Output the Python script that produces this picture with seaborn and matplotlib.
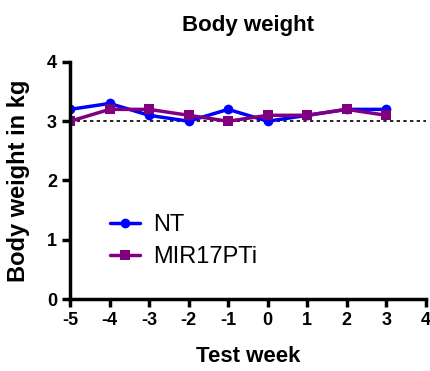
import matplotlib
matplotlib.use("Agg")
import matplotlib.pyplot as plt
import seaborn as sns
import pandas as pd

weeks = [-5, -4, -3, -2, -1, 0, 1, 2, 3]
nt_weight = [3.2, 3.3, 3.1, 3.0, 3.2, 3.0, 3.1, 3.2, 3.2]
mir_weight = [3.0, 3.2, 3.2, 3.1, 3.0, 3.1, 3.1, 3.2, 3.1]
groups = ["NT", "MIR17PTi"]
colors = {"NT": "#0000ff", "MIR17PTi": "#800080"}
markers = {"NT": "o", "MIR17PTi": "s"}
x_ticks = [-5, -4, -3, -2, -1, 0, 1, 2, 3, 4]
y_ticks = [0, 1, 2, 3, 4]

df = pd.DataFrame({
    "week": weeks * 2,
    "weight": nt_weight + mir_weight,
    "group": [groups[0]] * len(weeks) + [groups[1]] * len(weeks),
})

sns.set_style("ticks")
plt.rcParams["font.family"] = ["Liberation Sans", "DejaVu Sans"]
plt.rcParams["axes.unicode_minus"] = False
plt.rcParams["text.color"] = "black"
plt.rcParams["axes.labelcolor"] = "black"

fig = plt.figure(figsize=(4.3, 3.71), dpi=100)
ax = fig.add_axes([0.163, 0.194, 0.827, 0.639])

sns.lineplot(data=df, x="week", y="weight", hue="group", style="group",
             palette=colors, markers=markers, dashes=False, ax=ax,
             linewidth=2.5, markersize=7, markeredgewidth=0, legend=True)

ax.axhline(3, color="black", linestyle=(0, (2, 2)), linewidth=1.2, zorder=0)

ax.set_xlim(-5, 4)
ax.set_ylim(0, 4)
ax.set_xticks(x_ticks)
ax.set_yticks(y_ticks)
ax.tick_params(axis="both", width=2.5, length=6, labelsize=13, colors="black")
for lbl in ax.get_xticklabels() + ax.get_yticklabels():
    lbl.set_fontweight("bold")
for side in ["left", "bottom"]:
    ax.spines[side].set_linewidth(2.5)
    ax.spines[side].set_color("black")
sns.despine(ax=ax)

ax.set_xlabel("Test week", fontsize=16, fontweight="bold", labelpad=12)
ax.set_ylabel("Body weight in kg", fontsize=17, fontweight="bold", labelpad=12)
ax.set_title("Body weight", fontsize=16, fontweight="bold", pad=22)

leg = ax.legend(loc="lower left", bbox_to_anchor=(0.065, 0.06), frameon=False,
                fontsize=17, handlelength=1.3, handletextpad=0.55,
                labelspacing=0.42, borderpad=0.2)

fig.savefig("out.png", dpi=100)
